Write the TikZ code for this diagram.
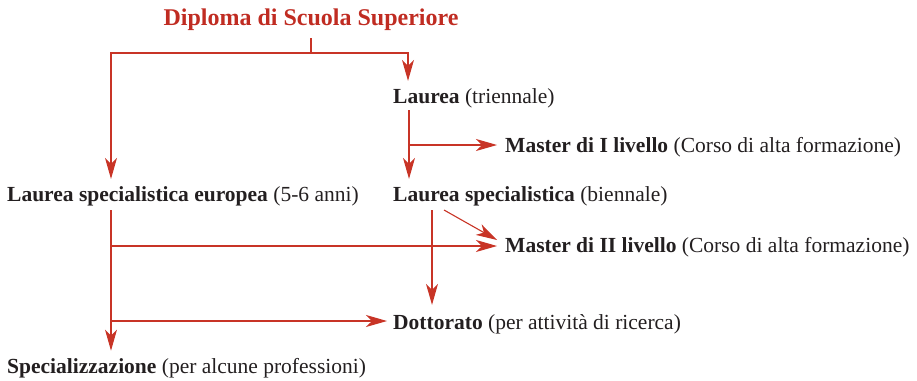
\documentclass[tikz,border=0pt]{standalone}
\usepackage{fontspec}
\setmainfont{Liberation Serif}
\usetikzlibrary{arrows.meta}

\definecolor{linered}{RGB}{200,52,38}
\definecolor{titlered}{RGB}{192,44,34}
\definecolor{txtgray}{RGB}{35,31,32}

\tikzset{
  conn/.style={draw=linered, line width=1.1pt},
  arr/.style={conn, -{Stealth[length=21pt,width=12pt,inset=6pt]}},
  lbl/.style={anchor=base west, inner sep=0pt, text=txtgray, font=\fontsize{21.5}{25}\selectfont},
}

\begin{document}
\begin{tikzpicture}[x=1pt,y=-1pt]
 \useasboundingbox (0,0) rectangle (917,380);
 % titles
 \node[anchor=base, inner sep=0pt, text=titlered, font=\fontsize{24}{28}\selectfont\bfseries] (dip) at (311,25) {Diploma di Scuola Superiore};
 \node[lbl] (lau) at (393,103) {\textbf{Laurea} (triennale)};
 \node[lbl] (m1) at (505,152) {\textbf{Master di I livello} (Corso di alta formazione)};
 \node[lbl] (ls) at (393,201) {\textbf{Laurea specialistica} (biennale)};
 \node[lbl] (lse) at (7,201) {\textbf{Laurea specialistica europea} (5-6 anni)};
 \node[lbl] (m2) at (505,252) {\textbf{Master di II livello} (Corso di alta formazione)};
 \node[lbl] (dott) at (393,329) {\textbf{Dottorato} (per attività di ricerca)};
 \node[lbl] (spec) at (7,373) {\textbf{Specializzazione} (per alcune professioni)};

 % junctions
 \coordinate (top) at (311,38);
 \coordinate (split) at (311,53);
 \coordinate (c1) at (409,110);
 \coordinate (b1) at (409,145);
 \coordinate (c2) at (432,210);
 \coordinate (c3) at (444,210);
 \coordinate (c4) at (111,210);
 \coordinate (b2) at (111,246);
 \coordinate (b3) at (111,321);
 \coordinate (t2) at (497,240);

 \draw[conn] (top) -- (split);
 \draw[arr, shorten >=7pt] (split) -| (lau.north -| 408,0);
 \draw[arr, shorten >=7pt] (split) -| (lse.north -| 111,0);
 \draw[arr, shorten >=7pt] (c1) -- (c1 |- ls.north);
 \draw[arr, shorten >=8pt] (b1) -- (b1 -| m1.west);
 \draw[arr, shorten >=9pt] (c2) -- (c2 |- dott.north);
 \draw[arr] (c3) -- (t2);
 \draw[arr, shorten >=8pt] (b2) -- (b2 -| m2.west);
 \draw[arr, shorten >=6pt] (b3) -- (b3 -| dott.west);
 \draw[arr, shorten >=7pt] (c4) -- (c4 |- spec.north);
\end{tikzpicture}
\end{document}
